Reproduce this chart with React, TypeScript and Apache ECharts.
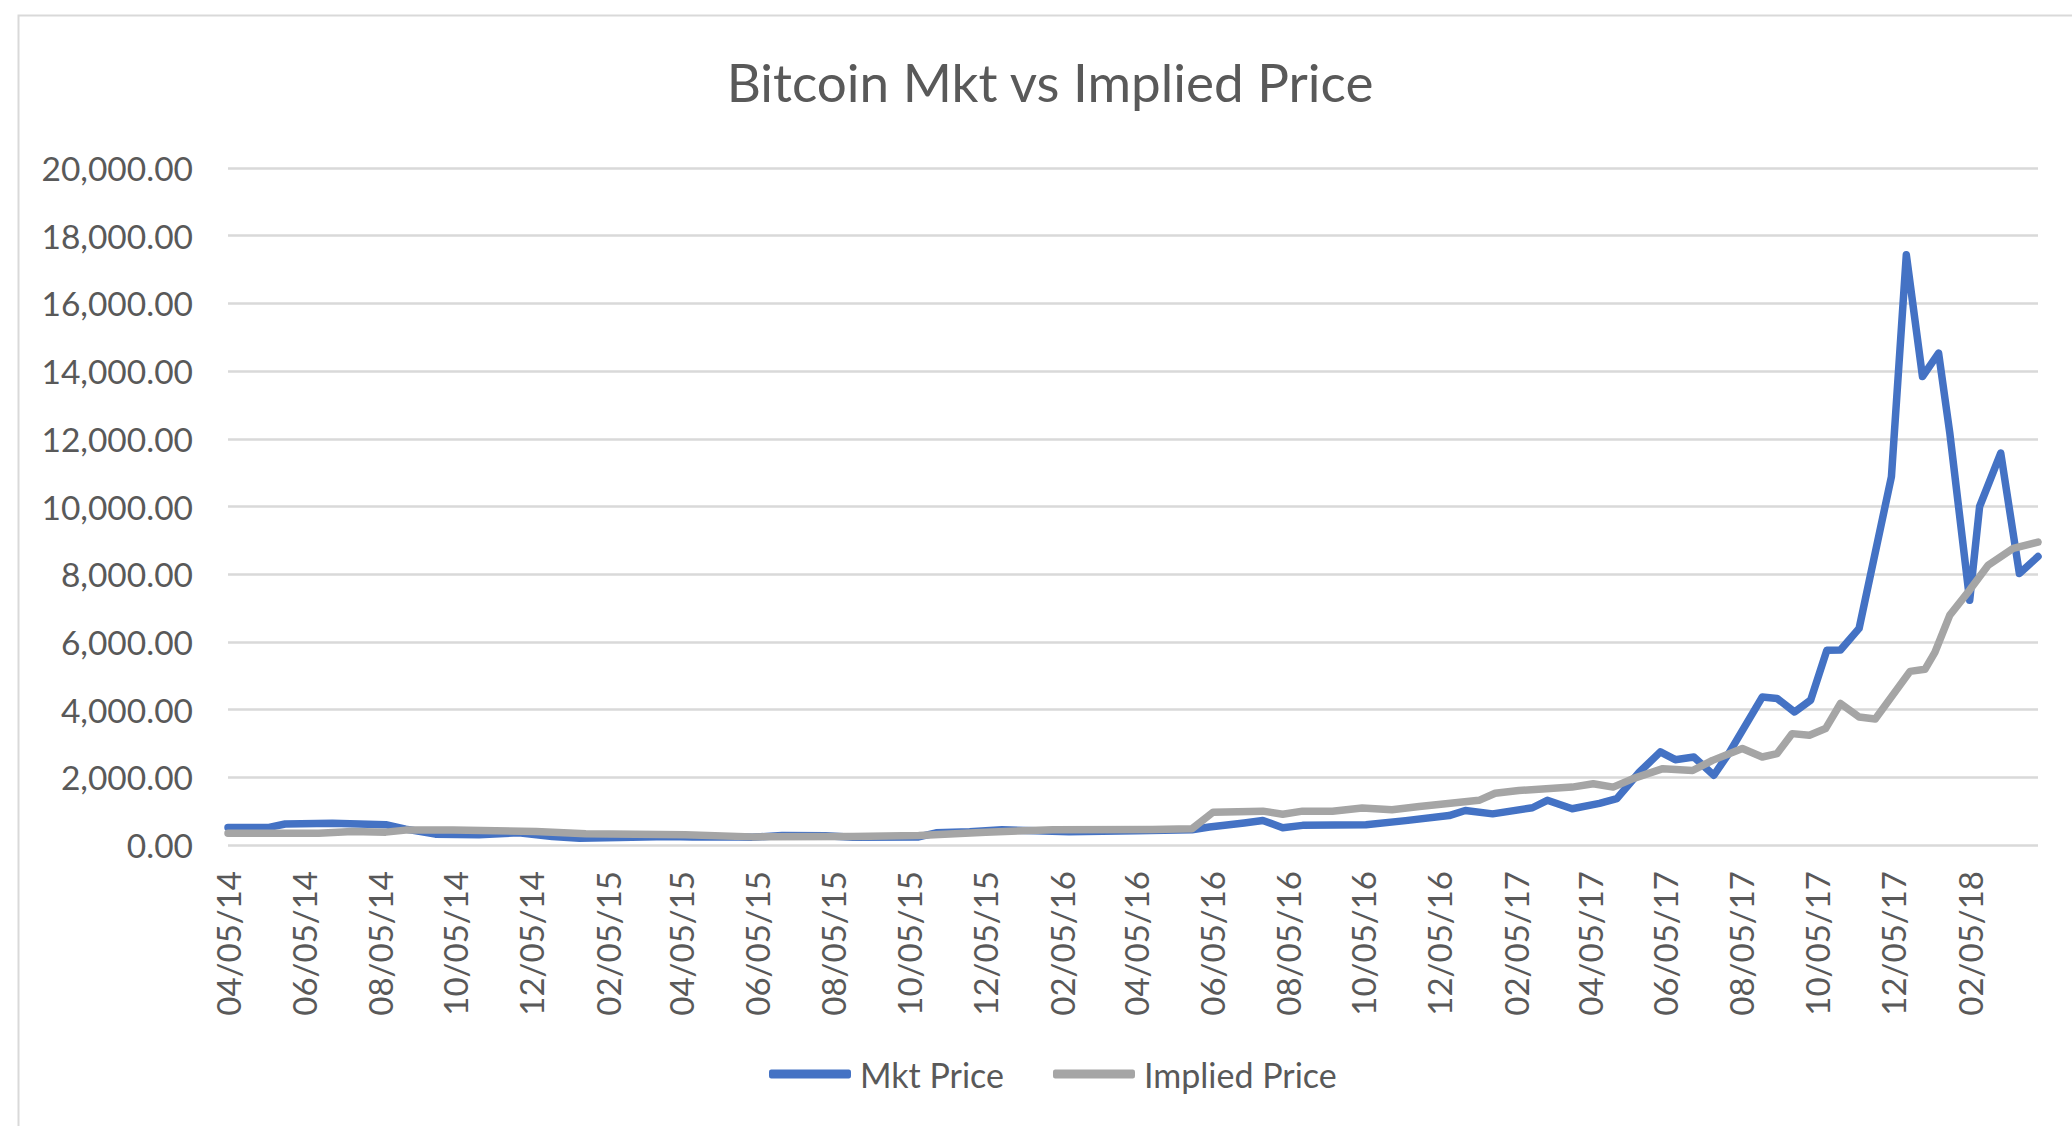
import React, { useEffect, useRef } from "react";
import * as echarts from "echarts";

const chartTitle = "Bitcoin Mkt vs Implied Price";
const seriesNames = ["Mkt Price", "Implied Price"];

const mktDates = [
  "2014-04-05", "2014-05-08", "2014-05-21", "2014-06-28", "2014-08-10", "2014-08-26", "2014-09-19", "2014-10-24", "2014-11-25", "2014-12-22",
  "2015-01-13", "2015-02-14", "2015-03-26", "2015-04-14", "2015-05-21", "2015-06-01", "2015-06-25", "2015-07-30", "2015-08-21", "2015-10-13", "2015-10-27", "2015-11-23", "2015-12-19",
  "2016-01-15", "2016-02-11", "2016-04-05", "2016-05-20", "2016-06-03", "2016-07-01", "2016-07-16", "2016-08-01", "2016-08-17", "2016-10-07", "2016-11-08", "2016-12-13", "2016-12-26",
  "2017-01-17", "2017-02-18", "2017-03-02", "2017-03-22", "2017-04-13", "2017-04-27", "2017-05-15", "2017-06-01", "2017-06-13", "2017-06-28", "2017-07-14", "2017-07-26",
  "2017-08-22", "2017-09-03", "2017-09-17", "2017-09-30", "2017-10-13", "2017-10-24", "2017-11-08", "2017-12-04", "2017-12-16", "2017-12-29",
  "2018-01-11", "2018-01-20", "2018-02-05", "2018-02-13", "2018-03-02", "2018-03-17", "2018-04-01",
];
const mktValues = [
  520, 520, 620, 640, 600, 470, 320, 300, 360, 250,
  200, 220, 250, 240, 235, 230, 280, 270, 230, 240, 360, 390, 450,
  420, 390, 420, 450, 530, 650, 725, 510, 580, 600, 720, 870, 1020,
  920, 1100, 1320, 1070, 1230, 1370, 2150, 2750, 2520, 2600, 2060, 2700,
  4370, 4330, 3930, 4280, 5750, 5760, 6400, 10880, 17440, 13840,
  14530, 12170, 7230, 10000, 11580, 8020, 8520,
];

const impliedDates = [
  "2014-04-05", "2014-06-17", "2014-07-14", "2014-08-10", "2014-08-26", "2014-10-03", "2014-12-09",
  "2015-01-18", "2015-04-08", "2015-06-01", "2015-08-21", "2015-10-13", "2015-12-06",
  "2016-01-29", "2016-04-18", "2016-05-20", "2016-06-06", "2016-07-16", "2016-08-01", "2016-08-17", "2016-09-10", "2016-10-04", "2016-10-28", "2016-11-19", "2016-12-16",
  "2017-01-06", "2017-01-19", "2017-02-07", "2017-03-01", "2017-03-22", "2017-04-08", "2017-04-24", "2017-05-10", "2017-06-03", "2017-06-27", "2017-07-13",
  "2017-08-06", "2017-08-22", "2017-09-03", "2017-09-15", "2017-09-29", "2017-10-12", "2017-10-24", "2017-11-08", "2017-11-21", "2017-12-19", "2017-12-31",
  "2018-01-08", "2018-01-20", "2018-02-05", "2018-02-20", "2018-03-12", "2018-04-01",
];
const impliedValues = [
  350, 350, 400, 380, 440, 440, 400,
  330, 300, 240, 250, 280, 380,
  450, 460, 480, 970, 1000, 910, 1000, 1000, 1090, 1040, 1140, 1240,
  1320, 1530, 1610, 1660, 1710, 1810, 1710, 1960, 2255, 2200, 2500,
  2850, 2600, 2700, 3290, 3240, 3440, 4180, 3780, 3720, 5130, 5190,
  5690, 6790, 7530, 8270, 8760, 8950,
];

const xTickDates = [
  "2014-04-05", "2014-06-05", "2014-08-05", "2014-10-05", "2014-12-05",
  "2015-02-05", "2015-04-05", "2015-06-05", "2015-08-05", "2015-10-05", "2015-12-05",
  "2016-02-05", "2016-04-05", "2016-06-05", "2016-08-05", "2016-10-05", "2016-12-05",
  "2017-02-05", "2017-04-05", "2017-06-05", "2017-08-05", "2017-10-05", "2017-12-05",
  "2018-02-05",
];
const yMin = 0;
const yMax = 20000;
const yStep = 2000;

const FONT = "Lato";
const TEXT_COLOR = "#595959";
const GRID_COLOR = "#d9d9d9";
const BLUE = "#4472C4";
const GRAY = "#A5A5A5";

const toTs = (s: string) => Date.parse(s + "T00:00:00Z");
const pad = (n: number) => (n < 10 ? "0" + n : "" + n);
const fmtDate = (v: number) => {
  const d = new Date(v);
  return `${pad(d.getUTCMonth() + 1)}/${pad(d.getUTCDate())}/${pad(d.getUTCFullYear() % 100)}`;
};

export default function App() {
  const ref = useRef<HTMLDivElement>(null);

  useEffect(() => {
    if (!ref.current) return;
    const chart = echarts.init(ref.current, null, { renderer: "svg" });
    const mktData = mktDates.map((d, i) => [toTs(d), mktValues[i]]);
    const impliedData = impliedDates.map((d, i) => [toTs(d), impliedValues[i]]);
    const xMin = toTs(mktDates[0]);
    const xMax = toTs(mktDates[mktDates.length - 1]);

    chart.setOption({
      animation: false,
      backgroundColor: "#ffffff",
      textStyle: { fontFamily: FONT },
      title: {
        text: chartTitle,
        left: 1045,
        top: 50,
        textAlign: "center",
        textStyle: { fontFamily: FONT, fontSize: 53, fontWeight: "normal", color: TEXT_COLOR },
      },
      graphic: [
        {
          type: "rect",
          left: 16,
          top: 13,
          shape: { width: 2200, height: 1200 },
          style: { fill: "none", stroke: GRID_COLOR, lineWidth: 2 },
          silent: true,
          z: -1,
        },
      ],
      legend: {
        left: 764,
        top: 1052,
        itemWidth: 82,
        itemHeight: 9,
        itemGap: 49,
        icon: "roundRect",
        data: seriesNames,
        textStyle: { fontFamily: FONT, fontSize: 34, color: TEXT_COLOR, padding: [0, 0, 0, 4] },
      },
      grid: {
        left: 228,
        right: 34,
        top: 168,
        bottom: 281,
        containLabel: false,
        outerBoundsMode: "none",
      },
      xAxis: {
        type: "value",
        min: xMin,
        max: xMax,
        axisLine: { show: false },
        axisTick: { show: false },
        splitLine: { show: false },
        axisLabel: {
          customValues: xTickDates.map(toTs),
          formatter: (v: number) => fmtDate(v),
          rotate: 90,
          margin: 26,
          fontFamily: FONT,
          fontSize: 33,
          color: TEXT_COLOR,
        },
      },
      yAxis: {
        type: "value",
        min: yMin,
        max: yMax,
        interval: yStep,
        axisLine: { show: false },
        axisTick: { show: false },
        splitLine: { lineStyle: { color: GRID_COLOR, width: 2.5 } },
        axisLabel: {
          margin: 35,
          fontFamily: FONT,
          fontSize: 33.5,
          color: TEXT_COLOR,
          formatter: (v: number) =>
            v.toLocaleString("en-US", { minimumFractionDigits: 2, maximumFractionDigits: 2 }),
        },
      },
      series: [
        {
          name: seriesNames[0],
          type: "line",
          data: mktData,
          showSymbol: false,
          symbol: "none",
          lineStyle: { color: BLUE, width: 7.5, cap: "round", join: "round" },
          itemStyle: { color: BLUE },
        },
        {
          name: seriesNames[1],
          type: "line",
          data: impliedData,
          showSymbol: false,
          symbol: "none",
          lineStyle: { color: GRAY, width: 7.5, cap: "round", join: "round" },
          itemStyle: { color: GRAY },
        },
      ],
    });
    return () => chart.dispose();
  }, []);

  return (
    <div
      ref={ref}
      style={{ position: "fixed", left: 0, top: 0, width: 2072, height: 1126, background: "#fff" }}
    />
  );
}
